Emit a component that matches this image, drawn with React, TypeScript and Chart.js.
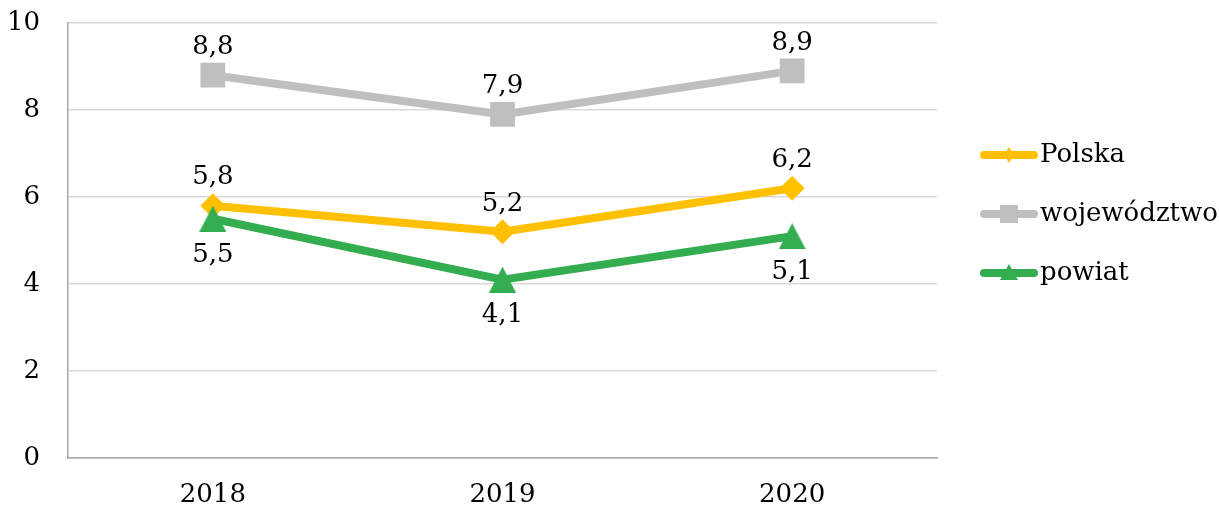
import React, { useEffect, useRef } from 'react';
import { Chart, registerables } from 'chart.js';

Chart.register(...registerables);

const categories = ['2018', '2019', '2020'];
const seriesNames = ['Polska', 'województwo', 'powiat'];
const polska = [5.8, 5.2, 6.2];
const wojewodztwo = [8.8, 7.9, 8.9];
const powiat = [5.5, 4.1, 5.1];
const yTicks = [0, 2, 4, 6, 8, 10];

const FONT = 'DejaVu Serif';
const FS = 26;
const TEXT = '#000000';
const GREEN = '#33AD50';

function makeTriangle(w: number, h: number, color: string): HTMLCanvasElement {
  const c = document.createElement('canvas');
  c.width = w;
  c.height = h;
  const g = c.getContext('2d')!;
  g.fillStyle = color;
  g.beginPath();
  g.moveTo(w / 2, 0);
  g.lineTo(w, h);
  g.lineTo(0, h);
  g.closePath();
  g.fill();
  return c;
}

function drawMarker(ctx: CanvasRenderingContext2D, style: string, x: number, y: number, w: number, h: number, color: string) {
  ctx.save();
  ctx.fillStyle = color;
  ctx.beginPath();
  if (style === 'rectRot') {
    ctx.moveTo(x, y - h);
    ctx.lineTo(x + w, y);
    ctx.lineTo(x, y + h);
    ctx.lineTo(x - w, y);
  } else if (style === 'rect') {
    ctx.rect(x - w, y - h, 2 * w, 2 * h);
  } else {
    ctx.moveTo(x, y - h);
    ctx.lineTo(x + w, y + h);
    ctx.lineTo(x - w, y + h);
  }
  ctx.closePath();
  ctx.fill();
  ctx.restore();
}

const valueLabels = {
  id: 'valueLabels',
  afterDatasetsDraw(chart: any) {
    const ctx = chart.ctx as CanvasRenderingContext2D;
    ctx.save();
    ctx.font = `${FS}px "${FONT}"`;
    ctx.fillStyle = TEXT;
    ctx.textAlign = 'center';
    ctx.textBaseline = 'middle';
    chart.data.datasets.forEach((ds: any, i: number) => {
      const meta = chart.getDatasetMeta(i);
      meta.data.forEach((pt: any, j: number) => {
        const v = ds.data[j] as number;
        const txt = v.toFixed(1).replace('.', ',');
        const y = ds.labelPos === 'below' ? pt.y + 36 : pt.y - 28;
        ctx.fillText(txt, pt.x, y);
      });
    });
    ctx.restore();
  },
};

const sideLegend = {
  id: 'sideLegend',
  afterDraw(chart: any) {
    const ctx = chart.ctx as CanvasRenderingContext2D;
    const area = chart.chartArea;
    const x0 = area.right + 43;
    const lineLen = 58;
    const y0 = area.top + 132;
    const step = 59;
    ctx.save();
    chart.data.datasets.forEach((ds: any, i: number) => {
      const y = y0 + i * step;
      ctx.strokeStyle = ds.borderColor;
      ctx.lineWidth = 8;
      ctx.lineCap = 'round';
      ctx.beginPath();
      ctx.moveTo(x0 + 4, y);
      ctx.lineTo(x0 + lineLen - 4, y);
      ctx.stroke();
      const cx = x0 + lineLen / 2;
      if (ds.legendMarker === 'rectRot') drawMarker(ctx, 'rectRot', cx, y, 5, 8, ds.borderColor);
      else if (ds.legendMarker === 'rect') drawMarker(ctx, 'rect', cx, y, 9, 9, ds.borderColor);
      else drawMarker(ctx, 'triangle', cx, y - 1, 9, 8, ds.borderColor);
      ctx.font = `${FS}px "${FONT}"`;
      ctx.fillStyle = TEXT;
      ctx.textAlign = 'left';
      ctx.textBaseline = 'middle';
      ctx.fillText(seriesNames[i], x0 + lineLen + 2, y);
    });
    ctx.restore();
  },
};

export default function App() {
  const ref = useRef<HTMLCanvasElement | null>(null);

  useEffect(() => {
    if (!ref.current) return;
    const tri = makeTriangle(27, 26, GREEN);
    const chart = new Chart(ref.current, {
      type: 'line',
      data: {
        labels: categories,
        datasets: [
          {
            label: seriesNames[0],
            data: polska,
            borderColor: '#FFC000',
            backgroundColor: '#FFC000',
            borderWidth: 8,
            pointStyle: 'rectRot',
            pointRadius: 12.5,
            pointHoverRadius: 12.5,
            pointBorderWidth: 0,
            order: 3,
            labelPos: 'above',
            legendMarker: 'rectRot',
          } as any,
          {
            label: seriesNames[1],
            data: wojewodztwo,
            borderColor: '#BFBFBF',
            backgroundColor: '#BFBFBF',
            borderWidth: 8,
            pointStyle: 'rect',
            pointRadius: 17.5,
            pointHoverRadius: 17.5,
            pointBorderWidth: 0,
            order: 2,
            labelPos: 'above',
            legendMarker: 'rect',
          } as any,
          {
            label: seriesNames[2],
            data: powiat,
            borderColor: GREEN,
            backgroundColor: GREEN,
            borderWidth: 8,
            pointStyle: tri,
            pointRadius: 14,
            pointHoverRadius: 14,
            pointBorderWidth: 0,
            order: 1,
            labelPos: 'below',
            legendMarker: 'triangle',
          } as any,
        ],
      },
      options: {
        responsive: false,
        animation: false,
        layout: { padding: { left: 0, right: 282, top: 23, bottom: 0 } },
        plugins: {
          legend: { display: false },
          tooltip: { enabled: false },
        },
        scales: {
          x: {
            offset: true,
            grid: { display: false, drawTicks: false, tickLength: 0 },
            border: { display: true, color: '#A6A6A6', width: 1.5 },
            ticks: {
              color: TEXT,
              font: { family: FONT, size: FS },
              padding: 22,
            },
            afterFit: (s: any) => { s.height = 50; s.paddingLeft = 0; s.paddingRight = 0; },
          },
          y: {
            min: 0,
            max: 10,
            afterBuildTicks: (s: any) => { s.ticks = yTicks.map((v) => ({ value: v })); },
            grid: { color: '#D9D9D9', lineWidth: 1.5, drawTicks: false, tickLength: 0 },
            border: { display: true, color: '#A6A6A6', width: 1.5 },
            ticks: {
              color: TEXT,
              font: { family: FONT, size: FS },
              padding: 28,
            },
            afterFit: (s: any) => { s.width = 68; s.paddingTop = 0; s.paddingBottom = 0; },
          },
        },
      },
      plugins: [valueLabels, sideLegend],
    });
    return () => chart.destroy();
  }, []);

  return (
    <div style={{ position: 'absolute', left: 0, top: 0, width: 1219, height: 508 }}>
      <canvas ref={ref} width={1219} height={508} style={{ width: 1219, height: 508 }} />
    </div>
  );
}
